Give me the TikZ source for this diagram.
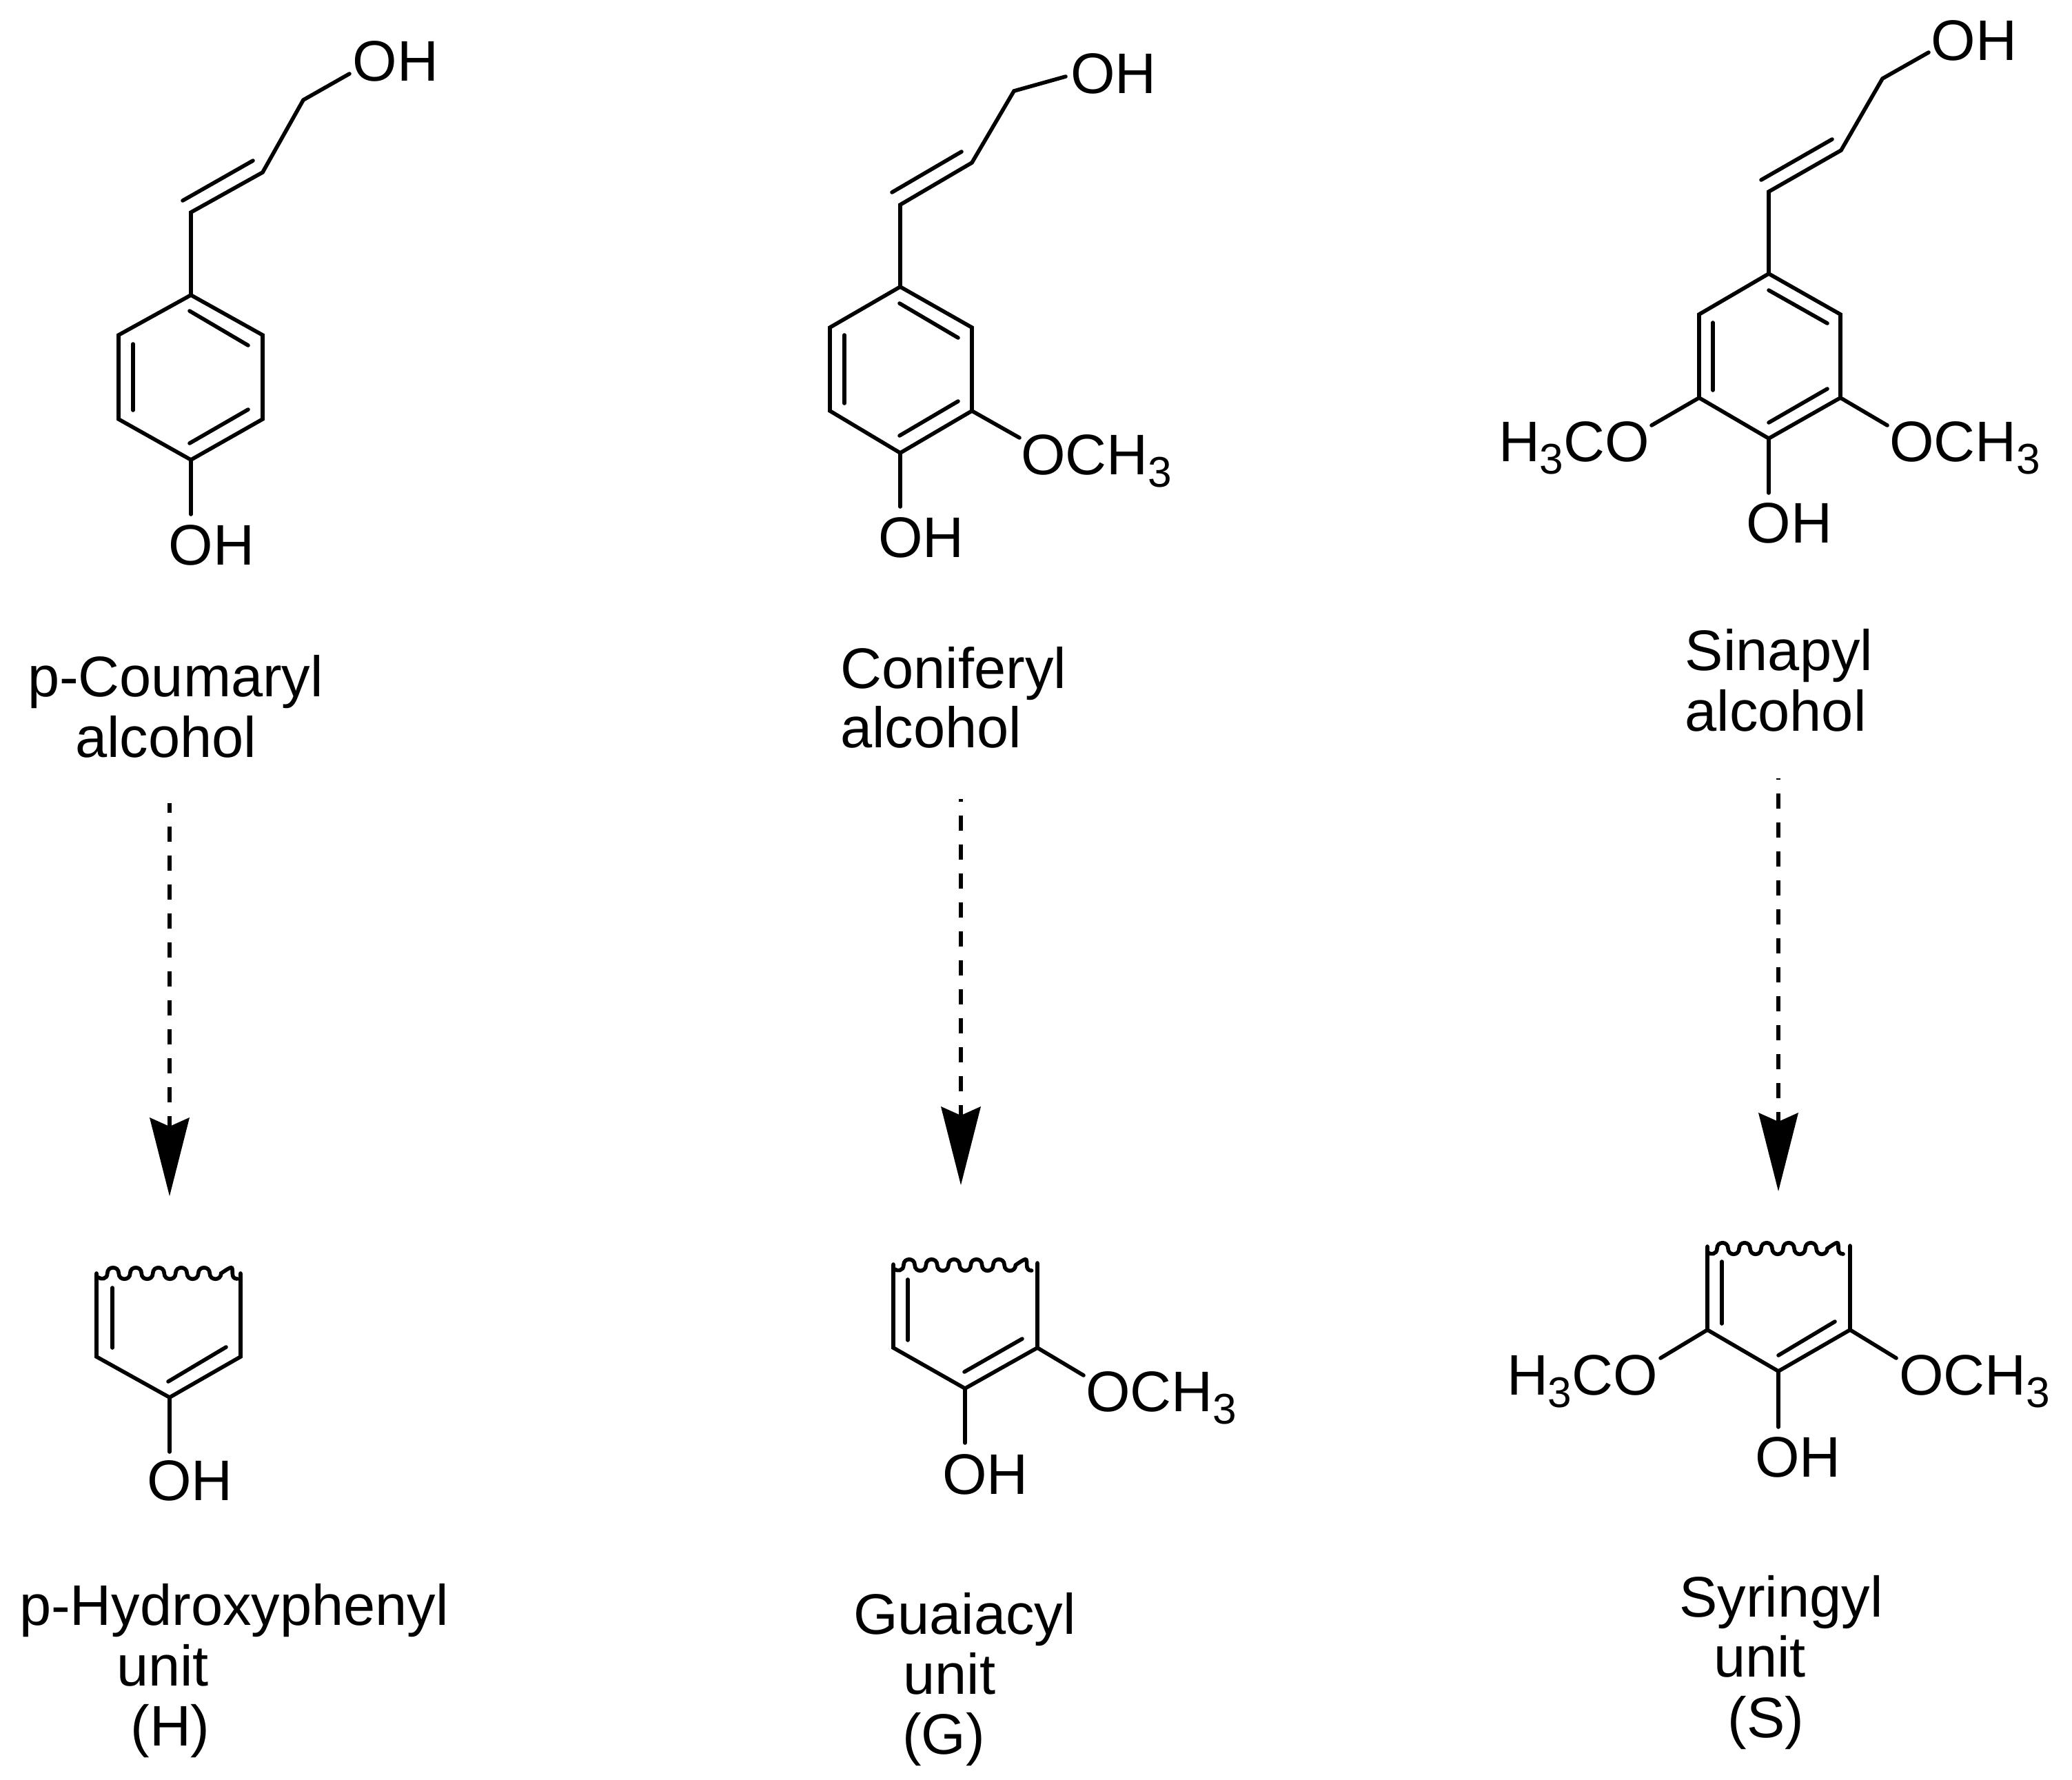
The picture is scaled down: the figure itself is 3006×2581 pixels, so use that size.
\documentclass[tikz,border=0pt]{standalone}
\usepackage{fontspec}
\setmainfont{Liberation Sans}
\usetikzlibrary{arrows.meta}
\newcommand{\sthree}{\raisebox{-0.18cm}{\fontsize{17.7pt}{20pt}\selectfont 3}}
% six-bump wavy edge: first peak x, centre y
\newcommand{\wavyedge}[3]{%
  \draw[bond] (#1-21,#2+6) .. controls (#1-18,#2+9) and (#1-#3/4,#2+9) .. (#1-#3/4,#2)
    \foreach \i in {0,...,4} {
      .. controls ({#1-#3/4+\i*#3},#2-11) and ({#1+#3/4+\i*#3},#2-11) .. ({#1+#3/4+\i*#3},#2)
      .. controls ({#1+#3/4+\i*#3},#2+11) and ({#1+3*#3/4+\i*#3},#2+11) .. ({#1+3*#3/4+\i*#3},#2)
    }
    .. controls ({#1+3*#3/4+5*#3-#3/2},#2-11) and ({#1+#3/4+5*#3},#2-11) .. ({#1+#3/4+5*#3},#2)
    .. controls ({#1+#3/4+5*#3},#2+5) and ({#1+#3/4+5*#3+2},#2+8) .. ({#1+#3/4+5*#3+7},#2+8);
}
\tikzset{
  bond/.style={line width=0.056cm,line cap=round,line join=miter},
  chem/.style={inner sep=0pt,outer sep=0pt,anchor=base,font=\fontsize{23.6pt}{27pt}\selectfont},
  pathway/.style={line width=0.06cm,line cap=butt,dash pattern=on 0.22cm off 0.2cm,
    -{Stealth[length=1.14cm,width=0.58cm,inset=0.13cm,line width=0pt]}}
}
\begin{document}
\begin{tikzpicture}[x=0.01cm,y=-0.01cm]
\useasboundingbox (0,0) rectangle (3006,2581);

%% ---------- p-Coumaryl alcohol ----------
\node[chem] (aOH) at (574,117) {OH};
\node[chem] (aOHb) at (307,819) {OH};
\node[chem] (aT1) at (254.5,1010) {p-Coumaryl};
\node[chem] (aT2) at (240.5,1098) {alcohol};
\coordinate (a1) at (277,428); \coordinate (a2) at (381,486); \coordinate (a3) at (381,608);
\coordinate (a4) at (277,667); \coordinate (a5) at (172,608); \coordinate (a6) at (172,486);
\coordinate (ac1) at (277,308); \coordinate (ac2) at (381,250); \coordinate (ac3) at (440,145);
\coordinate (aend) at (507,107); \coordinate (aendb) at (277,746);
\coordinate (ad1) at (265,291); \coordinate (ad2) at (367,233);
\coordinate (ai1) at (275,451); \coordinate (ai2) at (360,501);
\coordinate (ai3) at (193,499); \coordinate (ai4) at (193,595);
\coordinate (ai5) at (275,643); \coordinate (ai6) at (360,594);
\draw[bond] (a1)--(a2)--(a3)--(a4)--(a5)--(a6)--cycle;
\draw[bond] (a1)--(ac1)--(ac2)--(ac3)--(aend);
\draw[bond] (ad1)--(ad2);
\draw[bond] (a4)--(aendb);
\draw[bond] (ai1)--(ai2);
\draw[bond] (ai3)--(ai4);
\draw[bond] (ai5)--(ai6);

%% ---------- Coniferyl alcohol ----------
\node[chem] (bOH) at (1615.5,135) {OH};
\node[chem,anchor=base west] (bOM) at (1481,688) {OCH\sthree};
\node[chem] (bOHb) at (1336.5,808) {OH};
\node[chem] (bT1) at (1383.5,998) {Coniferyl};
\node[chem] (bT2) at (1350.5,1084) {alcohol};
\coordinate (b1) at (1306,416); \coordinate (b2) at (1410,475); \coordinate (b3) at (1410,596);
\coordinate (b4) at (1306,657); \coordinate (b5) at (1204,596); \coordinate (b6) at (1204,475);
\coordinate (bc1) at (1306,297); \coordinate (bc2) at (1410,236); \coordinate (bc3) at (1471,132);
\coordinate (bend) at (1546,111); \coordinate (bendb) at (1306,735); \coordinate (bendm) at (1479,635);
\coordinate (bd1) at (1294,279); \coordinate (bd2) at (1395,220);
\coordinate (bi1) at (1305,440); \coordinate (bi2) at (1390,490);
\coordinate (bi3) at (1225,486); \coordinate (bi4) at (1225,585);
\coordinate (bi5) at (1305,632); \coordinate (bi6) at (1390,582);
\draw[bond] (b1)--(b2)--(b3)--(b4)--(b5)--(b6)--cycle;
\draw[bond] (b1)--(bc1)--(bc2)--(bc3)--(bend);
\draw[bond] (bd1)--(bd2);
\draw[bond] (b4)--(bendb);
\draw[bond] (b3)--(bendm);
\draw[bond] (bi1)--(bi2);
\draw[bond] (bi3)--(bi4);
\draw[bond] (bi5)--(bi6);

%% ---------- Sinapyl alcohol ----------
\node[chem] (cOH) at (2864,87) {OH};
\node[chem,anchor=base west] (cOMr) at (2741,669) {OCH\sthree};
\node[chem,anchor=base west] (cOMl) at (2174,669) {H\sthree CO};
\node[chem] (cOHb) at (2596,787) {OH};
\node[chem] (cT1) at (2581,972) {Sinapyl};
\node[chem] (cT2) at (2576,1060) {alcohol};
\coordinate (c1) at (2566,397); \coordinate (c2) at (2670,456); \coordinate (c3) at (2670,577);
\coordinate (c4) at (2566,636); \coordinate (c5) at (2465,577); \coordinate (c6) at (2465,456);
\coordinate (cc1) at (2566,278); \coordinate (cc2) at (2671,218); \coordinate (cc3) at (2731,114);
\coordinate (cend) at (2798,76); \coordinate (cendb) at (2566,715);
\coordinate (cendl) at (2396,617); \coordinate (cendr) at (2738,617);
\coordinate (cd1) at (2555,261); \coordinate (cd2) at (2658,202);
\coordinate (ci1) at (2566,421); \coordinate (ci2) at (2651,469);
\coordinate (ci3) at (2485,468); \coordinate (ci4) at (2485,566);
\coordinate (ci5) at (2566,613); \coordinate (ci6) at (2651,564);
\draw[bond] (c1)--(c2)--(c3)--(c4)--(c5)--(c6)--cycle;
\draw[bond] (c1)--(cc1)--(cc2)--(cc3)--(cend);
\draw[bond] (cd1)--(cd2);
\draw[bond] (c4)--(cendb);
\draw[bond] (c5)--(cendl);
\draw[bond] (c3)--(cendr);
\draw[bond] (ci1)--(ci2);
\draw[bond] (ci3)--(ci4);
\draw[bond] (ci5)--(ci6);

%% ---------- dashed arrows ----------
\coordinate (p1s) at (246,1165); \coordinate (p1e) at (246,1735);
\coordinate (p2s) at (1394,1159); \coordinate (p2e) at (1394,1719);
\coordinate (p3s) at (2580,1129); \coordinate (p3e) at (2580,1728);
\draw[pathway,dash phase=0.08cm] (p1s)--(p1e);
\draw[pathway,dash phase=0.18cm] (p2s)--(p2e);
\draw[pathway,dash phase=0.20cm] (p3s)--(p3e);

%% ---------- H unit ----------
\node[chem] (dOH) at (275.5,2176) {OH};
\node[chem] (dT1) at (339.5,2357) {p-Hydroxyphenyl};
\node[chem] (dT2) at (236,2445) {unit};
\node[chem] (dT3) at (247,2532) {(H)};
\coordinate (d1) at (140,1847); \coordinate (d2) at (140,1968); \coordinate (d3) at (246,2027);
\coordinate (d4) at (349,1968); \coordinate (d5) at (349,1847); \coordinate (dend) at (246,2106);
\coordinate (di1) at (163,1868); \coordinate (di2) at (163,1955);
\coordinate (di3) at (244,2004); \coordinate (di4) at (328,1954);
\draw[bond] (d1)--(d2)--(d3)--(d4)--(d5);
\draw[bond] (d3)--(dend);
\draw[bond] (di1)--(di2);
\draw[bond] (di3)--(di4);
\wavyedge{164}{1847}{33}

%% ---------- G unit ----------
\node[chem,anchor=base west] (eOM) at (1575,2047) {OCH\sthree};
\node[chem] (eOH) at (1429.5,2167) {OH};
\node[chem] (eT1) at (1399.5,2370) {Guaiacyl};
\node[chem] (eT2) at (1377.5,2457) {unit};
\node[chem] (eT3) at (1369,2544) {(G)};
\coordinate (e1) at (1296,1834); \coordinate (e2) at (1296,1955); \coordinate (e3) at (1400,2014);
\coordinate (e4) at (1505,1955); \coordinate (e5) at (1505,1832);
\coordinate (eend) at (1400,2093); \coordinate (eendm) at (1572,1995);
\coordinate (ei1) at (1317,1856); \coordinate (ei2) at (1317,1944);
\coordinate (ei3) at (1399,1990); \coordinate (ei4) at (1483,1942);
\draw[bond] (e1)--(e2)--(e3)--(e4)--(e5);
\draw[bond] (e3)--(eend);
\draw[bond] (e4)--(eendm);
\draw[bond] (ei1)--(ei2);
\draw[bond] (ei3)--(ei4);
\wavyedge{1319}{1835}{32.5}

%% ---------- S unit ----------
\node[chem,anchor=base west] (fOMr) at (2755,2023) {OCH\sthree};
\node[chem,anchor=base west] (fOMl) at (2186,2023) {H\sthree CO};
\node[chem] (fOH) at (2608.5,2142) {OH};
\node[chem] (fT1) at (2584,2345) {Syringyl};
\node[chem] (fT2) at (2553,2432) {unit};
\node[chem] (fT3) at (2562,2520) {(S)};
\coordinate (f1) at (2477,1808); \coordinate (f2) at (2477,1929); \coordinate (f3) at (2580,1989);
\coordinate (f4) at (2684,1929); \coordinate (f5) at (2684,1807);
\coordinate (fend) at (2580,2070); \coordinate (fendl) at (2409,1970); \coordinate (fendr) at (2751,1970);
\coordinate (fi1) at (2498,1830); \coordinate (fi2) at (2498,1920);
\coordinate (fi3) at (2580,1966); \coordinate (fi4) at (2662,1917);
\draw[bond] (f1)--(f2)--(f3)--(f4)--(f5);
\draw[bond] (f3)--(fend);
\draw[bond] (f2)--(fendl);
\draw[bond] (f4)--(fendr);
\draw[bond] (fi1)--(fi2);
\draw[bond] (fi3)--(fi4);
\wavyedge{2499}{1811}{32}
\end{tikzpicture}
\end{document}
